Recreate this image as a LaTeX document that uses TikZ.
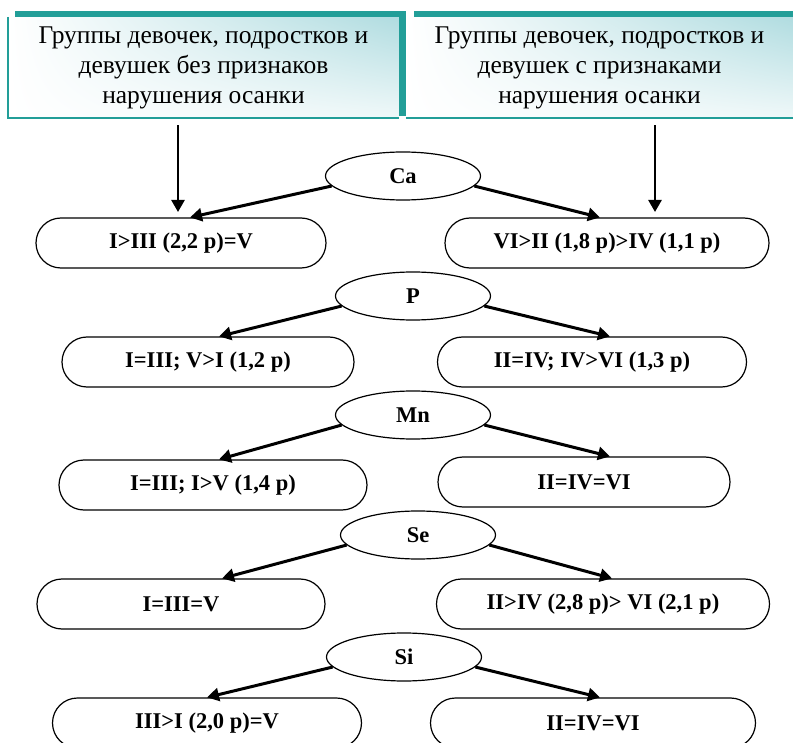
\documentclass[tikz,border=0pt]{standalone}
\usepackage{fontspec}
\setmainfont{Liberation Serif}
\usetikzlibrary{shapes.geometric,arrows.meta,shadings}
\definecolor{grpteal}{RGB}{34,158,152}
\definecolor{grplight}{RGB}{176,220,224}

\begin{document}
\begin{tikzpicture}[x=1pt,y=-1pt,
  grp/.style={shade,upper left=white,upper right=grplight,lower left=white,
    lower right=grplight!20,align=center,inner sep=0pt,
    font=\fontsize{25.5}{30}\selectfont},
  elem/.style={draw,ellipse,line width=1.2pt,minimum width=155pt,minimum height=48pt,
    inner sep=0pt,font=\bfseries\fontsize{22.5}{24}\selectfont},
  res/.style={draw,rounded corners=25pt,line width=1.2pt,minimum height=50pt,
    minimum width=#1,font=\bfseries\fontsize{22.5}{24}\selectfont},
  arr/.style={line width=3pt,-{Triangle[length=12pt,width=13pt]}}]
  \useasboundingbox (0,0) rectangle (793,743);

  % groups
  \node (grpL) at (203.5,67.5) [grp,minimum width=391pt,minimum height=101pt]
    {Группы девочек, подростков и\\девушек без признаков\\нарушения осанки};
  \node (grpR) at (599.5,67.5) [grp,minimum width=387pt,minimum height=101pt]
    {Группы девочек, подростков и\\девушек с признаками\\нарушения осанки};
  \fill[grpteal] ([xshift=7pt]grpL.north west) rectangle ++(391,-6);
  \fill[grpteal] ([xshift=8pt]grpR.north west) rectangle ++(379,-6);
  \fill[grpteal] ([xshift=-7pt,yshift=6pt]grpR.north west) rectangle ([yshift=2pt]grpR.south west);
  \draw[grpteal,line width=2pt] (grpL.north west) -- (grpL.south west) -- (grpL.south east);
  \draw[grpteal,line width=2pt] (grpR.south west) -- (grpR.south east);

  % elements
  \node (ca)  at (403,176) [elem] {Ca};
  \node (caL) at (181,243) [res=290pt] {I>III (2,2 p)=V};
  \node (caR) at (607,243) [res=324pt] {VI>II (1,8 p)>IV (1,1 p)};

  \node (p)   at (413,296) [elem] {P};
  \node (pL)  at (208,362) [res=292pt] {I=III; V>I (1,2 p)};
  \node (pR)  at (592,362) [res=309pt] {II=IV; IV>VI (1,3 p)};

  \node (mn)  at (413,415) [elem] {Mn};
  \node (mnL) at (213,485) [res=308pt] {I=III; I>V (1,4 p)};
  \node (mnR) at (584,482) [res=292pt] {II=IV=VI};

  \node (se)  at (418,535) [elem] {Se};
  \node (seL) at (181,604) [res=288pt] {I=III=V};
  \node (seR) at (603,604) [res=333pt] {II>IV (2,8 p)> VI (2,1 p)};

  \node (si)  at (404,657) [elem] {Si};
  \node (siL) at (207,723) [res=309pt] {III>I (2,0 p)=V};
  \node (siR) at (593,723) [res=325pt] {II=IV=VI};

  % arrows
  \coordinate (tipL) at (178,212);
  \coordinate (tipR) at (655,212);
  \draw[arr,line width=2.5pt] (grpL.south -| tipL) ++(0,7) -- (tipL);
  \draw[arr,line width=2.5pt] (grpR.south -| tipR) ++(0,7) -- (tipR);

  \draw[arr] (ca.188) -- ([xshift=9pt]caL.north);
  \draw[arr] (ca.352) -- ([xshift=-7pt]caR.north);
  \draw[arr] (p.188)  -- ([xshift=11pt]pL.north);
  \draw[arr] (p.352)  -- ([xshift=18pt]pR.north);
  \draw[arr] (mn.188) -- ([xshift=6pt]mnL.north);
  \draw[arr] (mn.352) -- ([xshift=26pt]mnR.north);
  \draw[arr] (se.188) -- ([xshift=41pt]seL.north);
  \draw[arr] (se.352) -- ([xshift=9pt]seR.north);
  \draw[arr] (si.188) -- (siL.north);
  \draw[arr] (si.352) -- ([xshift=7pt]siR.north);
\end{tikzpicture}
\end{document}
